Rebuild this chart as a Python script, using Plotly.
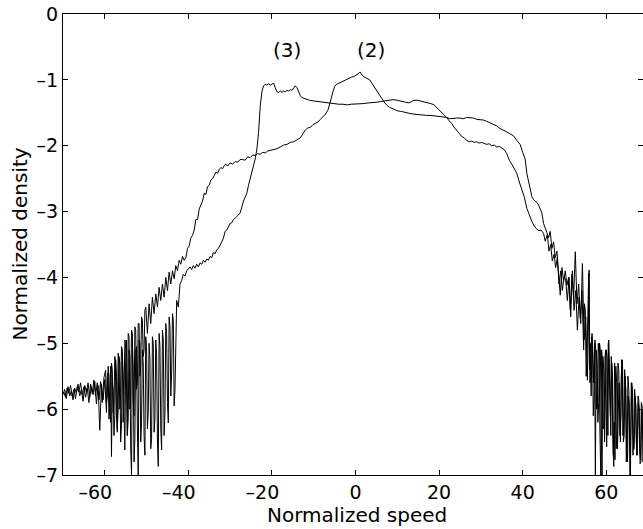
import plotly.graph_objects as go

# ================= curve (3): plateau near -1.1 at negative speeds =================
speed3_a = [
    -70.0, -69.6, -69.2, -68.8, -68.4, -68.0, -67.6, -67.2, -66.8, -66.4,
    -66.0, -65.6, -65.2, -64.8, -64.4, -64.0, -63.6, -63.2, -62.8, -62.4,
    -62.0, -61.6, -61.2, -60.8, -60.4, -60.0,
]
density3_a = [
    -5.78, -5.70, -5.84, -5.66, -5.80, -5.72, -5.86, -5.68, -5.76, -5.62,
    -5.80, -5.70, -5.88, -5.64, -5.74, -5.60, -5.82, -5.66, -5.78, -5.58,
    -5.92, -5.64, -6.32, -5.62, -5.86, -5.55,
]
speed3_b = [
    -59.6, -59.4, -59.2, -59.0, -58.8, -58.6, -58.4, -58.2, -58.0, -57.8,
    -57.6, -57.4, -57.2, -57.0, -56.8, -56.6, -56.4, -56.2, -56.0, -55.8,
    -55.6, -55.4, -55.2, -55.0, -54.8, -54.6, -54.4, -54.2, -54.0, -53.8,
    -53.6, -53.4, -53.2, -53.0, -52.8, -52.6, -52.4, -52.2, -52.0, -51.8,
    -51.6, -51.4, -51.2, -51.0, -50.8, -50.6, -50.4, -50.2, -50.0, -49.8,
    -49.6, -49.4, -49.2, -49.0, -48.8, -48.6, -48.4, -48.2, -48.0, -47.8,
    -47.6, -47.4, -47.2, -47.0, -46.8, -46.6, -46.4, -46.2, -46.0, -45.8,
    -45.6, -45.4, -45.2, -45.0, -44.8, -44.6, -44.4, -44.2, -44.0, -43.8,
    -43.6, -43.4, -43.2,
]
density3_b = [
    -6.05, -5.50, -5.45, -6.15, -5.95, -5.35, -6.72, -5.60, -5.70, -6.40,
    -6.10, -5.25, -5.50, -6.30, -6.00, -5.20, -5.30, -6.50, -6.25, -5.15,
    -5.45, -6.30, -6.62, -5.30, -4.95, -6.40, -6.15, -5.10, -5.20, -6.60,
    -7.00, -5.00, -5.40, -6.80, -6.45, -5.10, -5.05, -6.30, -7.00, -4.95,
    -5.00, -6.50, -6.20, -5.10, -5.30, -6.40, -6.70, -4.90, -5.05, -6.30,
    -6.05, -5.00, -5.25, -6.60, -6.45, -4.90, -5.00, -6.35, -6.15, -4.95,
    -5.15, -6.50, -6.87, -4.85, -5.05, -6.30, -6.62, -4.80, -4.95, -6.40,
    -6.05, -4.70, -4.85, -5.90, -6.21, -4.60, -4.75, -5.80, -5.45, -4.55,
    -4.65, -5.95, -5.71,
]
speed3_c = [
    -42.8, -42.4,
    -42.0, -41.6, -41.2, -40.8, -40.4, -40.0, -39.6, -39.2, -38.8, -38.4,
    -38.0, -37.6, -37.2, -36.8, -36.4, -36.0, -35.6, -35.2, -34.8, -34.4,
    -34.0, -33.6, -33.2, -32.8, -32.4, -32.0, -31.6, -31.2, -30.8, -30.4,
    -30.0, -29.6, -29.2, -28.8, -28.4, -28.0, -27.6, -27.2, -26.8, -26.4,
    -26.0, -25.6, -25.2, -24.8, -24.4, -24.0, -23.6, -23.2, -22.8, -22.4,
    -22.0, -21.6, -21.2, -20.8, -20.4, -20.0, -19.6, -19.2, -18.8, -18.4,
    -18.0, -17.6, -17.2, -16.8, -16.4, -16.0, -15.6, -15.2, -14.8, -14.4,
    -14.0, -13.6, -13.2, -12.8, -12.0, -11.0, -10.0, -9.0, -8.0, -7.0,
    -6.0, -5.0, -4.0, -3.0, -2.0, -1.0, 0.0, 1.0, 2.0, 3.0,
    4.0, 5.0, 6.0, 7.0, 8.0, 9.0, 10.0, 11.0, 12.0, 12.8,
    13.4, 14.0, 14.8, 15.6, 16.4, 17.2, 18.0, 18.8, 19.6, 20.2,
    21.0, 21.8, 22.6, 23.4, 24.2, 25.0, 25.8, 26.6, 27.4, 28.2,
    29.0, 29.8, 30.6, 31.4, 32.2, 33.0, 33.8, 34.6, 35.4, 36.2,
    37.0, 37.8, 38.6, 39.4, 40.0, 40.6, 41.0, 41.4, 41.8, 42.2,
    42.6, 43.0, 43.4, 43.8, 44.2, 44.6, 45.0, 45.4, 45.8, 46.2,
    46.6, 47.0, 47.4, 47.8, 48.2, 48.6, 49.0, 49.4, 49.8, 50.2,
    50.6, 51.0, 51.4, 51.8, 52.2, 52.6, 53.0, 53.4, 53.8, 54.2,
]
density3_c = [
    -4.35, -4.45,
    -4.10, -4.05, -3.95, -3.98, -3.90, -3.86, -3.84, -3.88, -3.82, -3.86,
    -3.80, -3.84, -3.78, -3.80, -3.74, -3.77, -3.72, -3.74, -3.68, -3.70,
    -3.62, -3.64, -3.58, -3.56, -3.52, -3.46, -3.40, -3.30, -3.28, -3.22,
    -3.18, -3.17, -3.12, -3.10, -3.08, -3.05, -3.02, -2.92, -2.84, -2.78,
    -2.72, -2.60, -2.50, -2.42, -2.32, -2.20, -2.05, -1.80, -1.40, -1.18,
    -1.09, -1.07, -1.08, -1.06, -1.08, -1.07, -1.05, -1.12, -1.18, -1.19,
    -1.17, -1.19, -1.17, -1.18, -1.16, -1.17, -1.15, -1.16, -1.13, -1.09,
    -1.12, -1.19, -1.24, -1.27, -1.29, -1.31, -1.32, -1.33, -1.34, -1.35,
    -1.35, -1.36, -1.37, -1.37, -1.38, -1.37, -1.37, -1.37, -1.36, -1.35,
    -1.35, -1.34, -1.33, -1.32, -1.31, -1.30, -1.31, -1.32, -1.34, -1.35,
    -1.33, -1.31, -1.31, -1.32, -1.33, -1.34, -1.36, -1.38, -1.43, -1.47,
    -1.52, -1.57, -1.59, -1.58, -1.58, -1.58, -1.59, -1.57, -1.57, -1.58,
    -1.60, -1.60, -1.61, -1.63, -1.65, -1.67, -1.70, -1.74, -1.76, -1.79,
    -1.82, -1.85, -1.92, -1.98, -2.10, -2.20, -2.42, -2.55, -2.64, -2.77,
    -2.82, -2.84, -2.86, -2.90, -2.95, -3.02, -3.18, -3.24, -3.32, -3.40,
    -3.30, -3.56, -3.46, -3.70, -3.60, -3.95, -4.27, -3.85, -4.06, -3.90,
    -4.12, -4.00, -4.49, -3.95, -4.30, -3.61, -4.40, -4.10, -4.62, -4.20,
]
speed3_d = [
    54.6, 54.8, 55.0, 55.2, 55.4, 55.6, 55.8, 56.0, 56.2, 56.4,
    56.6, 56.8, 57.0, 57.2, 57.4, 57.6, 57.8, 58.0, 58.2, 58.4,
    58.6, 58.8, 59.0, 59.2, 59.4, 59.6, 59.8, 60.0, 60.2, 60.4,
    60.6, 60.8, 61.0, 61.2, 61.4, 61.6, 61.8, 62.0, 62.2, 62.4,
    62.6, 62.8, 63.0, 63.2, 63.4, 63.6, 63.8, 64.0, 64.2, 64.4,
    64.6, 64.8, 65.0, 65.2, 65.4, 65.6, 65.8, 66.0, 66.2, 66.4,
    66.6, 66.8, 67.0, 67.2, 67.4, 67.6, 67.8, 68.0, 68.2, 68.4,
    68.6, 68.8, 69.0,
]
density3_d = [
    -5.10, -4.40, -4.50, -5.50, -5.20, -4.60, -3.94, -5.40, -5.00, -5.80,
    -4.85, -5.20, -5.60, -5.00, -7.00, -5.10, -5.30, -6.20, -5.90, -5.00,
    -5.10, -6.30, -7.00, -5.20, -5.40, -6.50, -6.00, -5.10, -5.20, -6.40,
    -4.95, -5.70, -6.10, -5.20, -5.40, -6.50, -6.87, -5.30, -5.50, -6.60,
    -6.30, -5.30, -5.40, -6.20, -6.50, -5.50, -5.25, -6.40, -6.20, -5.40,
    -5.60, -6.80, -6.60, -5.50, -5.70, -6.50, -7.00, -5.60, -5.80, -6.70,
    -6.40, -5.70, -5.90, -6.50, -6.70, -5.80, -5.86, -6.60, -6.77, -5.90,
    -5.96, -6.80, -6.50,
]

# ================= curve (2): peak near 0 =================
speed2_a = [
    -69.8, -69.4, -69.0, -68.6, -68.2, -67.8, -67.4, -67.0, -66.6, -66.2,
    -65.8, -65.4, -65.0, -64.6, -64.2, -63.8, -63.4, -63.0, -62.6, -62.2,
    -61.8, -61.4, -61.0, -60.6, -60.2,
]
density2_a = [
    -5.74, -5.82, -5.68, -5.76, -5.64, -5.80, -5.70, -5.84, -5.66, -5.74,
    -5.60, -5.78, -5.66, -5.82, -5.68, -5.90, -5.62, -5.76, -5.56, -5.80,
    -5.60, -5.86, -5.58, -5.90, -5.52,
]
speed2_b = [
    -59.8, -59.6, -59.4, -59.2, -59.0, -58.8, -58.6, -58.4, -58.2, -58.0,
    -57.8, -57.6, -57.4, -57.2, -57.0, -56.8, -56.6, -56.4, -56.2, -56.0,
    -55.8, -55.6, -55.4, -55.2, -55.0, -54.8, -54.6, -54.4, -54.2, -54.0,
    -53.8, -53.6, -53.4, -53.2, -53.0, -52.8, -52.6, -52.4, -52.2, -52.0,
    -51.8, -51.6, -51.4, -51.2, -51.0, -50.8, -50.6, -50.4, -50.2,
]
density2_b = [
    -5.41, -5.90, -5.80, -5.35, -5.50, -6.00, -6.20, -5.30, -5.40, -6.05,
    -5.90, -5.20, -5.30, -6.10, -6.35, -5.15, -5.30, -6.00, -5.75, -5.05,
    -5.10, -6.20, -5.90, -4.95, -5.00, -5.70, -6.40, -4.85, -4.90, -6.00,
    -5.80, -4.80, -4.85, -5.90, -6.10, -4.75, -4.80, -5.70, -5.60, -4.70,
    -4.70, -5.50, -5.35, -4.60, -4.65, -5.20, -5.10, -4.50, -4.45,
]
speed2_c = [
    -49.8, -49.4, -49.0, -48.6, -48.2, -47.8, -47.4, -47.0, -46.6, -46.2,
    -45.8, -45.4, -45.0, -44.6, -44.2, -43.8, -43.4, -43.0, -42.6, -42.2,
    -41.8, -41.4, -41.0, -40.6, -40.2, -39.8, -39.4, -39.0, -38.6, -38.2,
    -37.8, -37.4, -37.0, -36.6, -36.2, -35.8, -35.4, -35.0, -34.6, -34.2,
    -33.8, -33.4, -33.0, -32.6, -32.2, -31.8, -31.4, -31.0, -30.6, -30.0,
    -29.4, -28.8, -28.2, -27.6, -27.0, -26.4, -25.8, -25.2, -24.6, -24.0,
    -23.4, -22.8, -22.2, -21.6, -21.0, -20.0, -19.0, -18.0, -17.2, -16.4,
    -15.6, -14.8, -14.0, -13.2, -12.6, -12.0, -11.4, -10.8, -10.2, -9.6,
    -9.0, -8.4, -7.8, -7.2, -6.6, -6.2, -5.8, -5.4, -5.0, -4.6,
    -4.0, -3.4, -2.8, -2.2, -1.6, -1.0, -0.4, 0.2, 0.8, 1.1,
    1.6, 2.2, 2.8, 3.4, 4.0, 4.6, 5.2, 5.8, 6.4, 7.0,
    7.6, 8.2, 9.0, 10.0, 11.0, 12.0, 13.0, 14.0, 15.0, 16.0,
    17.0, 18.0, 19.0, 20.0, 21.0, 21.8, 22.4, 23.0, 23.6, 24.2,
    24.8, 25.4, 26.0, 26.6, 27.2, 27.8, 28.4, 29.0, 29.6, 30.2,
    30.8, 31.4, 32.0, 32.6, 33.2, 33.8, 34.4, 35.0, 35.6, 36.2,
    36.8, 37.4, 38.0, 38.6, 39.2, 39.8, 40.4, 41.0, 41.6, 42.2,
    42.8, 43.4, 43.9, 44.4, 45.0, 45.4, 45.9, 46.3, 46.7, 47.1,
    47.5, 47.9, 48.3, 48.7, 49.1, 49.5, 49.9, 50.3, 50.7, 51.1,
    51.5, 51.9, 52.3, 52.7, 53.1, 53.5, 53.9, 54.3, 54.7,
]
density2_c = [
    -4.85, -4.40, -4.70, -4.30, -4.55, -4.25, -4.45, -4.15, -4.35, -4.10,
    -4.30, -4.00, -4.20, -3.92, -4.10, -3.90, -4.02, -3.82, -3.90, -3.74,
    -3.80, -3.68, -3.74, -3.70, -3.56, -3.52, -3.40, -3.36, -3.28, -3.12,
    -3.12, -2.96, -2.90, -2.84, -2.72, -2.74, -2.62, -2.60, -2.52, -2.50,
    -2.45, -2.40, -2.42, -2.36, -2.33, -2.35, -2.30, -2.28, -2.31, -2.26,
    -2.28, -2.24, -2.25, -2.21, -2.21, -2.22, -2.17, -2.18, -2.14, -2.15,
    -2.12, -2.13, -2.10, -2.11, -2.08, -2.07, -2.05, -2.02, -1.99, -1.98,
    -1.95, -1.94, -1.91, -1.88, -1.82, -1.76, -1.73, -1.72, -1.68, -1.66,
    -1.64, -1.60, -1.56, -1.52, -1.46, -1.38, -1.28, -1.18, -1.10, -1.07,
    -1.05, -1.03, -1.02, -0.99, -0.98, -0.96, -0.95, -0.93, -0.90, -0.88,
    -0.93, -0.96, -0.98, -1.00, -1.06, -1.12, -1.18, -1.24, -1.30, -1.35,
    -1.39, -1.42, -1.44, -1.47, -1.48, -1.50, -1.51, -1.52, -1.53, -1.53,
    -1.54, -1.54, -1.55, -1.55, -1.56, -1.57, -1.62, -1.66, -1.72, -1.76,
    -1.81, -1.86, -1.88, -1.92, -1.94, -1.93, -1.95, -1.94, -1.96, -1.95,
    -1.97, -1.98, -1.97, -2.00, -1.99, -2.02, -2.01, -2.03, -2.06, -2.12,
    -2.22, -2.28, -2.34, -2.42, -2.55, -2.66, -2.78, -2.95, -3.06, -3.15,
    -3.22, -3.27, -3.29, -3.28, -3.33, -3.45, -3.35, -3.60, -3.50, -3.75,
    -3.65, -3.85, -3.70, -4.10, -3.90, -4.20, -3.99, -4.04, -4.35, -4.00,
    -4.60, -3.90, -4.50, -4.20, -4.80, -4.30, -4.70, -3.79, -4.95,
]
speed2_d = [
    55.1, 55.3, 55.5, 55.7, 55.9, 56.1, 56.3, 56.5, 56.7, 56.9,
    57.1, 57.3, 57.5, 57.7, 57.9, 58.1, 58.3, 58.5, 58.7, 58.9,
    59.1, 59.3, 59.5, 59.7, 59.9, 60.1, 60.3, 60.5, 60.7, 60.9,
    61.1, 61.3, 61.5, 61.7, 61.9, 62.1, 62.3, 62.5, 62.7, 62.9,
    63.1, 63.3, 63.5, 63.7, 63.9, 64.1, 64.3, 64.5, 64.7, 64.9,
    65.1, 65.3, 65.5, 65.7, 65.9, 66.1, 66.3, 66.5, 66.7, 66.9,
    67.1, 67.3, 67.5, 67.7, 67.9, 68.1, 68.3, 68.5, 68.7, 68.9,
    69.1,
]
density2_d = [
    -4.60, -5.10, -5.56, -4.80, -3.89, -5.60, -5.40, -4.90, -5.00, -6.10,
    -5.80, -4.95, -5.10, -6.00, -5.70, -5.00, -5.20, -6.40, -7.00, -5.10,
    -5.30, -6.30, -6.20, -5.20, -5.10, -6.57, -6.00, -5.00, -5.30, -6.30,
    -6.40, -5.30, -5.50, -6.70, -6.20, -6.77, -5.35, -5.60, -6.60, -6.00,
    -5.60, -6.40, -6.10, -5.25, -5.30, -6.50, -6.40, -5.50, -5.70, -6.60,
    -6.80, -5.80, -5.90, -7.00, -6.30, -5.60, -5.70, -6.62, -6.60, -5.80,
    -5.95, -6.70, -6.50, -5.90, -6.00, -6.83, -6.80, -6.00, -6.10, -6.70,
    -6.40,
]

speed3 = speed3_a + speed3_b + speed3_c + speed3_d
density3 = density3_a + density3_b + density3_c + density3_d
speed2 = speed2_a + speed2_b + speed2_c + speed2_d
density2 = density2_a + density2_b + density2_c + density2_d

x_ticks = [-60, -40, -20, 0, 20, 40, 60]
x_labels = ["–60\u2003", "–40\u2003", "–20\u2003", "0", "20", "40", "60"]
y_ticks = [0, -1, -2, -3, -4, -5, -6, -7]
y_labels = ["0", "–1", "–2", "–3", "–4", "–5", "–6", "–7"]

FONT = "DejaVu Sans"

fig = go.Figure()
fig.add_trace(go.Scatter(x=speed3, y=density3, mode="lines",
                         line=dict(color="black", width=1), showlegend=False,
                         hoverinfo="skip"))
fig.add_trace(go.Scatter(x=speed2, y=density2, mode="lines",
                         line=dict(color="black", width=1), showlegend=False,
                         hoverinfo="skip"))

fig.add_annotation(x=-16.4, y=-0.55, text="(3)", showarrow=False,
                   font=dict(family=FONT, size=20, color="black"))
fig.add_annotation(x=3.6, y=-0.55, text="(2)", showarrow=False,
                   font=dict(family=FONT, size=20, color="black"))

# axis titles placed as annotations
fig.add_annotation(xref="x", x=0.4, yref="paper", y=0, yanchor="middle",
                   yshift=-40, text="Normalized speed", showarrow=False,
                   font=dict(family=FONT, size=20, color="black"))
fig.add_annotation(xref="paper", x=0, xanchor="center", xshift=-44,
                   yref="paper", y=0.5, textangle=-90,
                   text="Normalized density", showarrow=False,
                   font=dict(family=FONT, size=20, color="black"))

axis_common = dict(showgrid=False, zeroline=False, showline=True,
                   linecolor="black", linewidth=1, mirror="ticks",
                   ticks="inside", ticklen=5, tickcolor="black",
                   automargin=False,
                   tickfont=dict(family=FONT, size=19, color="black"))

fig.update_xaxes(range=[-70, 68.8], tickmode="array", tickvals=x_ticks,
                 ticktext=x_labels, **axis_common)
fig.update_yaxes(range=[-7, 0], tickmode="array", tickvals=y_ticks,
                 ticktext=y_labels, **axis_common)

fig.update_layout(width=643, height=529,
                  margin=dict(l=63, r=0, t=14, b=54),
                  paper_bgcolor="white", plot_bgcolor="white",
                  font=dict(family=FONT, color="black"),
                  hovermode=False)

fig.write_html("out.html", config={"displayModeBar": False},
               post_script="document.body.style.margin='0px';"
                           "document.body.style.overflow='hidden';")
